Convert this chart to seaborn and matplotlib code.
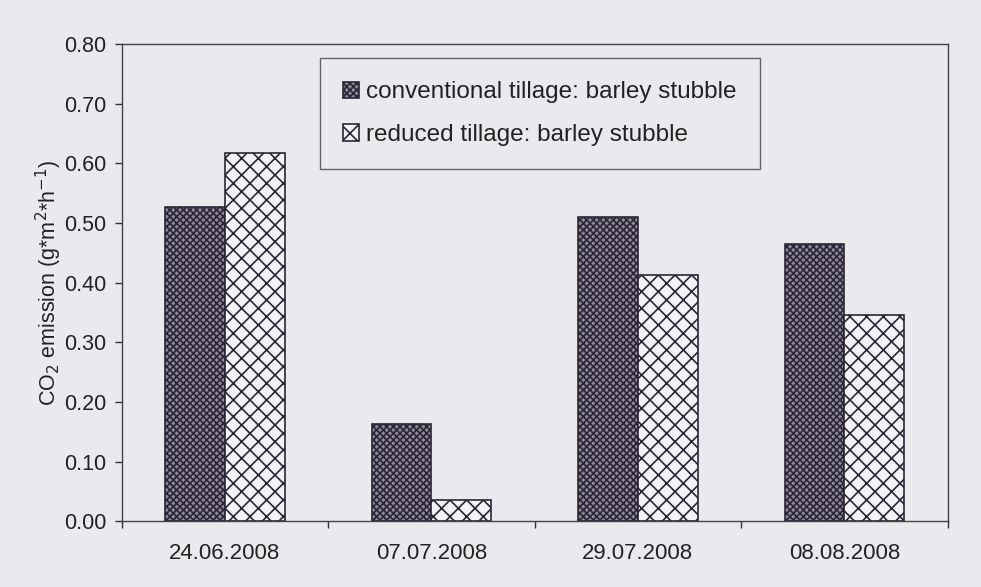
import numpy as np
import pandas as pd
import matplotlib
matplotlib.use("Agg")
import matplotlib.pyplot as plt
import seaborn as sns

# values
dates = ["24.06.2008", "07.07.2008", "29.07.2008", "08.08.2008"]
conventional = [0.527, 0.163, 0.510, 0.464]
reduced = [0.617, 0.035, 0.413, 0.346]
series = ["conventional tillage: barley stubble", "reduced tillage: barley stubble"]

df = pd.DataFrame({
    "date": dates * 2,
    "value": conventional + reduced,
    "series": [series[0]] * 4 + [series[1]] * 4,
})

sns.set_style("white")
plt.rcParams["font.family"] = ["Liberation Sans", "DejaVu Sans"]
plt.rcParams["hatch.linewidth"] = 1.2

bg = "#ebe8ee"
fig, ax = plt.subplots(figsize=(9.81, 5.87), dpi=100)
fig.patch.set_facecolor(bg)
ax.set_facecolor(bg)
fig.subplots_adjust(left=0.124, right=0.966, top=0.925, bottom=0.112)

sns.barplot(data=df, x="date", y="value", hue="series", hue_order=series,
            order=dates, width=0.58, gap=0, ax=ax, legend=False)

# hatching: dense dark cross for conventional, open net for reduced
styles = [("#8f889c", "#2b2636", "xxxxx"), ("#f4f2f6", "#2b2636", "xx")]
for cont, (fc, ec, h) in zip(ax.containers, styles):
    for bar in cont:
        bar.set_facecolor(fc)
        bar.set_edgecolor(ec)
        bar.set_hatch(h)
        bar.set_linewidth(1.2)

ax.set_ylim(0, 0.8)
ax.set_xlim(-0.5, len(dates) - 0.5)
ax.set_yticks(np.arange(0, 0.81, 0.1))
ax.set_yticklabels([f"{v:.2f}" for v in np.arange(0, 0.81, 0.1)], fontsize=15.5)
ax.tick_params(axis="y", length=5, width=1, color="#333333", direction="out", left=True, pad=6)
ax.tick_params(axis="x", which="major", length=0, labelsize=16, pad=16)
ax.set_xticks(np.arange(-0.5, len(dates), 1.0), minor=True)
ax.tick_params(axis="x", which="minor", length=5, width=1, color="#333333", bottom=True)

ax.set_xlabel("")
ax.set_ylabel(r"CO$_2$ emission (g*m$^2$*h$^{-1}$)", fontsize=15.5, color="#222222", labelpad=0)
for s in ax.spines.values():
    s.set_color("#444444")
    s.set_linewidth(1.0)

for lbl in ax.get_xticklabels() + ax.get_yticklabels():
    lbl.set_color("#222222")

handles = [cont.patches[0] for cont in ax.containers]
leg = ax.legend(handles, series, loc="upper left", bbox_to_anchor=(0.24, 0.97), fontsize=17.5,
                frameon=True, fancybox=False, edgecolor="#444444",
                handlelength=0.65, handleheight=0.65, handletextpad=0.3,
                borderpad=0.95, labelspacing=0.85, borderaxespad=0)
leg.get_frame().set_facecolor(bg)
leg.get_frame().set_linewidth(1.0)
for t in leg.get_texts():
    t.set_color("#222222")

plt.savefig("out.png", dpi=100, facecolor=bg)
